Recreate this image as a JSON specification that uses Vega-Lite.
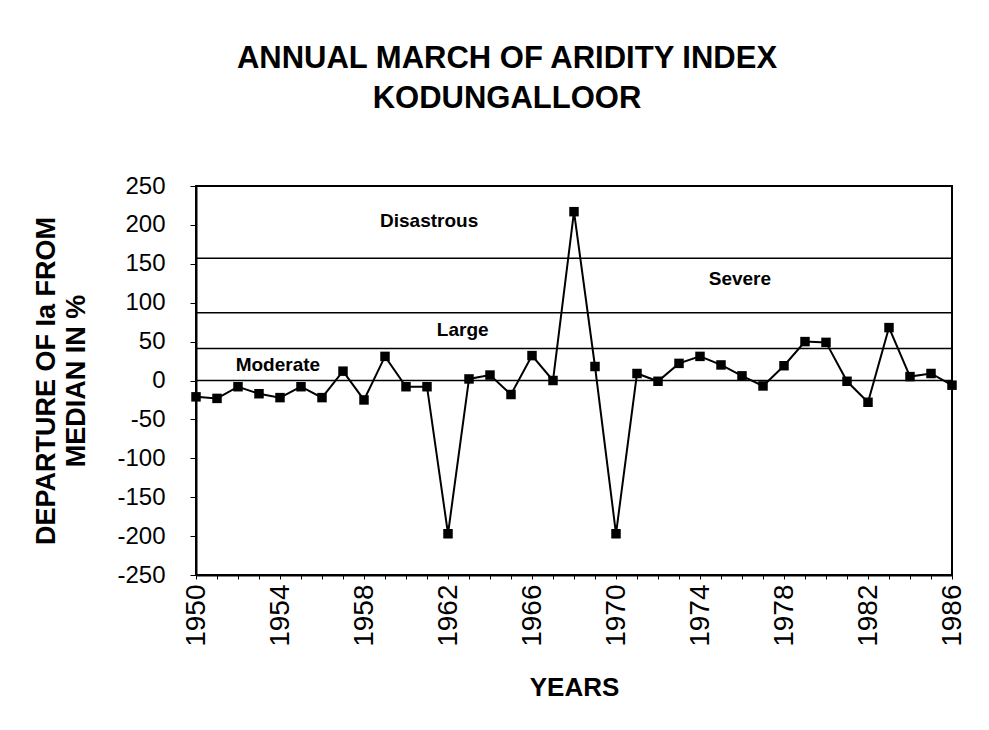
{
  "$schema": "https://vega.github.io/schema/vega-lite/v6.json",
  "width": 756,
  "height": 389,
  "autosize": {"type": "none"},
  "padding": {"left": 196, "top": 186, "right": 37, "bottom": 155},
  "background": "white",
  "config": {
    "font": "Liberation Sans",
    "view": {"stroke": "black", "strokeWidth": 2},
    "axis": {"labelOverlap": false}
  },
  "title": {
    "text": ["ANNUAL MARCH OF ARIDITY INDEX", "KODUNGALLOOR"],
    "fontSize": 31,
    "fontWeight": "bold",
    "font": "Liberation Sans",
    "color": "black",
    "anchor": "middle",
    "dx": -67,
    "offset": 59,
    "lineHeight": 40
  },
  "datasets": {
    "series": [
      {"year": 1950, "value": -21},
      {"year": 1951, "value": -23},
      {"year": 1952, "value": -8},
      {"year": 1953, "value": -17},
      {"year": 1954, "value": -22},
      {"year": 1955, "value": -8},
      {"year": 1956, "value": -22},
      {"year": 1957, "value": 12},
      {"year": 1958, "value": -25},
      {"year": 1959, "value": 31},
      {"year": 1960, "value": -8},
      {"year": 1961, "value": -8},
      {"year": 1962, "value": -197},
      {"year": 1963, "value": 2},
      {"year": 1964, "value": 7},
      {"year": 1965, "value": -18},
      {"year": 1966, "value": 32},
      {"year": 1967, "value": 0},
      {"year": 1968, "value": 217},
      {"year": 1969, "value": 18},
      {"year": 1970, "value": -197},
      {"year": 1971, "value": 9},
      {"year": 1972, "value": -1},
      {"year": 1973, "value": 22},
      {"year": 1974, "value": 31},
      {"year": 1975, "value": 20},
      {"year": 1976, "value": 6},
      {"year": 1977, "value": -7},
      {"year": 1978, "value": 19},
      {"year": 1979, "value": 50},
      {"year": 1980, "value": 49},
      {"year": 1981, "value": -1},
      {"year": 1982, "value": -28},
      {"year": 1983, "value": 68},
      {"year": 1984, "value": 5},
      {"year": 1985, "value": 9},
      {"year": 1986, "value": -6}
    ],
    "thresholds": [
      {"level": 0},
      {"level": 41},
      {"level": 87},
      {"level": 157}
    ],
    "bands": [
      {"label": "Disastrous", "year": 1961.1, "value": 205},
      {"label": "Severe", "year": 1975.9, "value": 131},
      {"label": "Large", "year": 1962.7, "value": 65},
      {"label": "Moderate", "year": 1953.9, "value": 20}
    ]
  },
  "layer": [
    {
      "data": {"name": "thresholds"},
      "mark": {"type": "rule", "color": "black", "strokeWidth": 1.5},
      "encoding": {
        "y": {
          "field": "level",
          "type": "quantitative",
          "scale": {"domain": [-250, 250], "nice": false},
          "axis": {
            "title": ["DEPARTURE OF Ia FROM", "MEDIAN IN %"],
            "titleFontSize": 27,
            "titleFontWeight": "bold",
            "titleColor": "black",
            "titleLineHeight": 30,
            "titlePadding": 26,
            "values": [-250,-200,-150,-100,-50,0,50,100,150,200,250],
            "tickCount": 30,
            "labelExpr": "datum.value + ''",
            "labelFontSize": 24,
            "labelColor": "black",
            "labelPadding": 25,
            "labelOverlap": false,
            "labelFlush": false,
            "labelBound": false,
            "grid": false,
            "tickColor": "black",
            "tickSize": 6,
            "domainColor": "black",
            "domainWidth": 2
          }
        }
      }
    },
    {
      "data": {"name": "bands"},
      "mark": {"type": "text", "fontSize": 19, "fontWeight": "bold", "color": "black", "align": "center", "baseline": "middle"},
      "encoding": {
        "x": {
          "field": "year",
          "type": "quantitative",
          "scale": {"domain": [1950, 1986], "nice": false, "zero": false},
          "axis": {
            "title": "YEARS",
            "titleFontSize": 26,
            "titleFontWeight": "bold",
            "titleColor": "black",
            "titlePadding": 28,
            "values": [1950,1951,1952,1953,1954,1955,1956,1957,1958,1959,1960,1961,1962,1963,1964,1965,1966,1967,1968,1969,1970,1971,1972,1973,1974,1975,1976,1977,1978,1979,1980,1981,1982,1983,1984,1985,1986],
            "tickCount": 60,
            "labelExpr": "(datum.value - 1950) % 4 == 0 ? datum.value + '' : ''",
            "labelAngle": -90,
            "labelFontSize": 28,
            "labelColor": "black",
            "labelPadding": 5,
            "labelOverlap": false,
            "labelBound": false,
            "labelFlush": false,
            "grid": false,
            "tickColor": "black",
            "tickSize": 4,
            "domainColor": "black",
            "domainWidth": 2
          }
        },
        "y": {"field": "value", "type": "quantitative"},
        "text": {"field": "label"}
      }
    },
    {
      "data": {"name": "series"},
      "mark": {"type": "line", "color": "black", "strokeWidth": 2},
      "encoding": {
        "x": {"field": "year", "type": "quantitative"},
        "y": {"field": "value", "type": "quantitative"}
      }
    },
    {
      "data": {"name": "series"},
      "mark": {"type": "point", "shape": "square", "filled": true, "color": "black", "size": 90, "opacity": 1},
      "encoding": {
        "x": {"field": "year", "type": "quantitative"},
        "y": {"field": "value", "type": "quantitative"}
      }
    }
  ]
}
